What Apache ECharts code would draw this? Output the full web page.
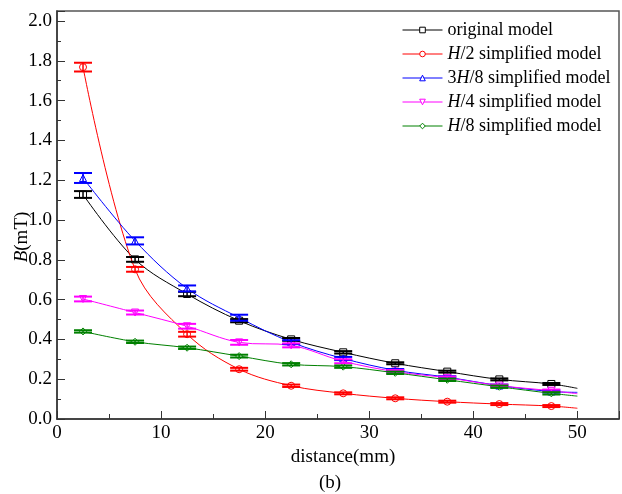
<!DOCTYPE html>
<html>
<head>
<meta charset="utf-8">
<script src="https://cdn.jsdelivr.net/npm/echarts@6/dist/echarts.min.js"></script>
<style>html,body{margin:0;padding:0;background:#fff}#c{width:622px;height:494px}</style>
</head>
<body>
<div id="c"></div>
<script>
// distance (mm) of measurement points
const distances = [2.5, 7.5, 12.5, 17.5, 22.5, 27.5, 32.5, 37.5, 42.5, 47.5];
const endDistance = 50;
// B (mT) values
const originalB = [1.128, 0.802, 0.628, 0.494, 0.400, 0.335, 0.280, 0.238, 0.199, 0.176];
const originalEnd = 0.154;
const originalErr = [0.017, 0.012, 0.011, 0.008, 0.007, 0.006, 0.005, 0.005, 0.005, 0.005];

const h2B = [1.768, 0.752, 0.426, 0.250, 0.167, 0.129, 0.104, 0.087, 0.075, 0.065];
const h2End = 0.054;
const h2Err = [0.022, 0.012, 0.012, 0.007, 0.006, 0.005, 0.005, 0.005, 0.005, 0.005];

const h38B = [1.211, 0.895, 0.656, 0.509, 0.386, 0.304, 0.245, 0.210, 0.168, 0.138];
const h38End = 0.134;
const h38Err = [0.025, 0.018, 0.015, 0.015, 0.010, 0.008, 0.006, 0.005, 0.005, 0.005];

const h4B = [0.603, 0.535, 0.466, 0.385, 0.370, 0.290, 0.238, 0.207, 0.168, 0.142];
const h4End = 0.127;
const h4Err = [0.012, 0.010, 0.012, 0.012, 0.010, 0.010, 0.008, 0.006, 0.005, 0.006];

const h8B = [0.440, 0.388, 0.358, 0.316, 0.275, 0.263, 0.232, 0.197, 0.162, 0.129];
const h8End = 0.115;
const h8Err = [0.006, 0.006, 0.006, 0.007, 0.006, 0.006, 0.006, 0.006, 0.006, 0.006];

const xTicks = [0, 10, 20, 30, 40, 50];
const yTicks = [0.0, 0.2, 0.4, 0.6, 0.8, 1.0, 1.2, 1.4, 1.6, 1.8, 2.0];

const seriesDefs = [
  {name: 'original model', vals: originalB, end: originalEnd, err: originalErr, color: '#000000', symbol: 'rect', rotate: 0},
  {name: 'H/2 simplified model', vals: h2B, end: h2End, err: h2Err, color: '#ff0000', symbol: 'circle', rotate: 0},
  {name: '3H/8 simplified model', vals: h38B, end: h38End, err: h38Err, color: '#0000ff', symbol: 'triangle', rotate: 0},
  {name: 'H/4 simplified model', vals: h4B, end: h4End, err: h4Err, color: '#ff00ff', symbol: 'triangle', rotate: 180},
  {name: 'H/8 simplified model', vals: h8B, end: h8End, err: h8Err, color: '#008000', symbol: 'diamond', rotate: 0}
];

const FONT = 'Liberation Serif';
const chart = echarts.init(document.getElementById('c'));
const series = [];
seriesDefs.forEach((d, k) => {
  const data = distances.map((x, i) => [x, d.vals[i]]);
  data.push({value: [endDistance, d.end], symbol: 'none'});
  series.push({
    name: d.name, type: 'line', smooth: 0.35, data: data,
    symbol: d.symbol, symbolSize: 7, symbolRotate: d.rotate, showAllSymbol: true,
    lineStyle: {color: d.color, width: 1},
    itemStyle: {color: '#ffffff', borderColor: d.color, borderWidth: 1},
    z: 3 + k
  });
});
seriesDefs.forEach((d, k) => {
  series.push({
    type: 'custom', name: 'err' + k, silent: true, z: 10 + k,
    encode: {x: 0, y: [1, 2]},
    data: distances.map((x, i) => [x, d.vals[i] - d.err[i], d.vals[i] + d.err[i]]),
    renderItem: function (params, api) {
      const x = api.value(0);
      const p1 = api.coord([x, api.value(1)]);
      const p2 = api.coord([x, api.value(2)]);
      const hw = 9;
      return {type: 'group', children: [
        {type: 'line', shape: {x1: p1[0], y1: p1[1], x2: p2[0], y2: p2[1]}, style: {stroke: d.color, lineWidth: 1.5}},
        {type: 'line', shape: {x1: p1[0] - hw, y1: p1[1], x2: p1[0] + hw, y2: p1[1]}, style: {stroke: d.color, lineWidth: 2}},
        {type: 'line', shape: {x1: p2[0] - hw, y1: p2[1], x2: p2[0] + hw, y2: p2[1]}, style: {stroke: d.color, lineWidth: 2}}
      ]};
    }
  });
});

function near(v, arr) { return arr.some(t => Math.abs(t - v) < 1e-6); }

chart.setOption({
  animation: false,
  backgroundColor: '#fff',
  grid: {left: 57, right: -2, top: 11, bottom: 75, show: true, borderColor: '#555', borderWidth: 1.5},
  legend: {
    orient: 'vertical', left: 397, top: 16, itemWidth: 40, itemHeight: 7, itemGap: 6,
    data: seriesDefs.map(d => d.name),
    itemStyle: {color: '#ffffff', borderColor: 'inherit', borderWidth: 1},
    lineStyle: {color: 'inherit', width: 1},
    textStyle: {fontFamily: FONT, fontSize: 18, color: '#000',
      rich: {i: {fontFamily: FONT, fontSize: 18, fontStyle: 'italic', color: '#000'}}},
    formatter: function (n) { return n.replace('H', '{i|H}'); }
  },
  xAxis: {
    type: 'value', min: 0, max: 54, interval: 10,
    splitLine: {show: false},
    axisLine: {lineStyle: {color: '#333', width: 1.5}},
    axisTick: {inside: true, length: 8, lineStyle: {color: '#333'}},
    minorTick: {show: true, splitNumber: 2, length: 5, lineStyle: {color: '#333'}},
    axisLabel: {fontFamily: FONT, fontSize: 19, color: '#000', margin: 5,
      formatter: v => near(v, xTicks) ? String(v) : ''},
    name: 'distance(mm)', nameLocation: 'middle', nameGap: 27,
    nameTextStyle: {fontFamily: FONT, fontSize: 19, color: '#000', padding: [0, 0, 0, 10]}
  },
  yAxis: {
    type: 'value', min: 0, max: 2.05, interval: 0.2,
    splitLine: {show: false},
    axisLine: {show: true, lineStyle: {color: '#333', width: 1.5}},
    axisTick: {show: true, inside: true, length: 8, lineStyle: {color: '#333'}},
    minorTick: {show: true, splitNumber: 2, length: 4, lineStyle: {color: '#333'}},
    axisLabel: {fontFamily: FONT, fontSize: 19, color: '#000', margin: 5,
      formatter: v => near(v, yTicks) ? v.toFixed(1) : ''}
  },
  graphic: [
    {type: 'text', x: 22, y: 237, rotation: Math.PI / 2,
      style: {text: '{i|B}(mT)', textAlign: 'center', textVerticalAlign: 'middle',
        fontFamily: FONT, fontSize: 19, fill: '#000',
        rich: {i: {fontFamily: FONT, fontSize: 19, fontStyle: 'italic', fill: '#000'}}}},
    {type: 'text', x: 330, y: 483,
      style: {text: '(b)', textAlign: 'center', textVerticalAlign: 'middle', fontFamily: FONT, fontSize: 19, fill: '#000'}}
  ],
  series: series
});
</script>
</body>
</html>
